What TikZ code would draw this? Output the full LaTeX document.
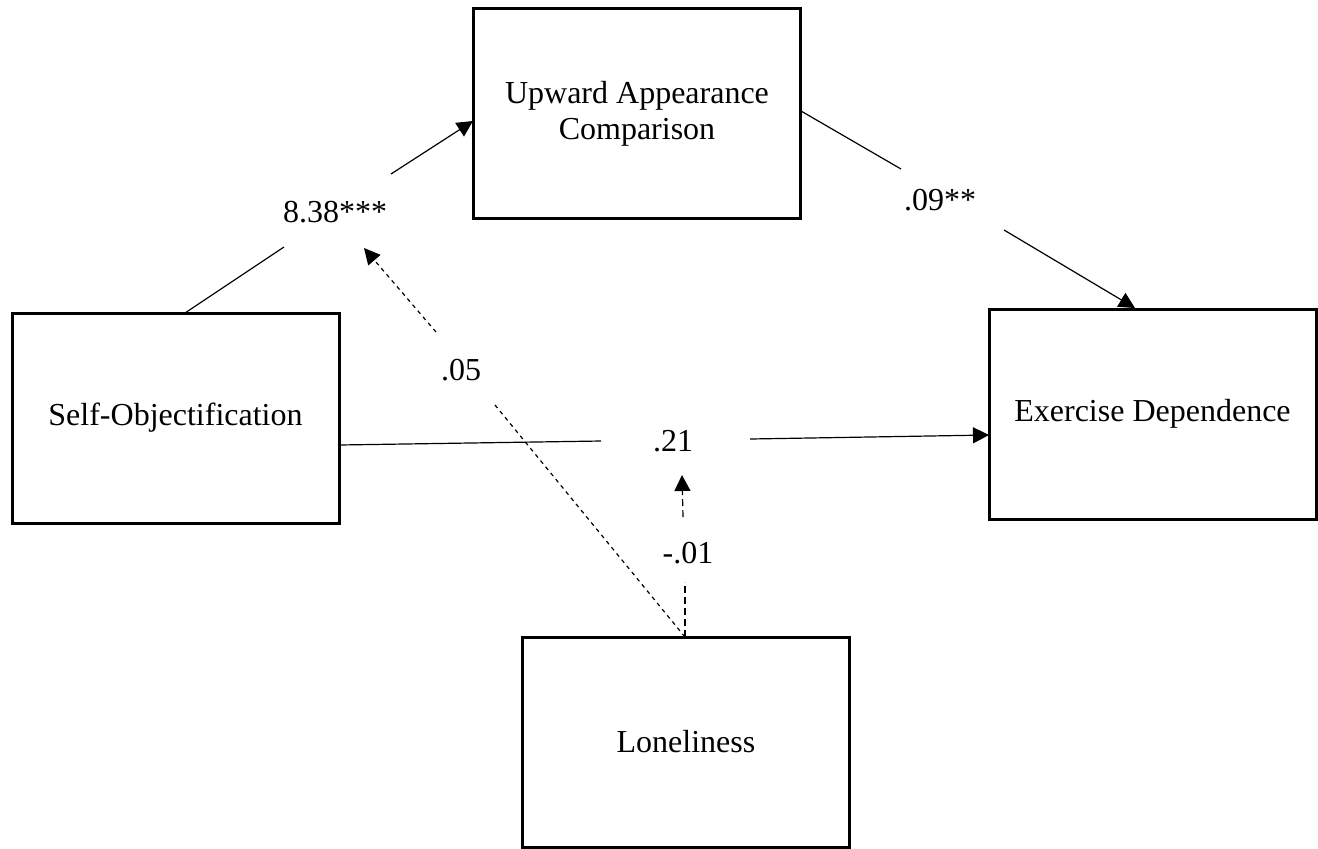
\documentclass[tikz,border=0pt]{standalone}
\usepackage{fontspec}
\setmainfont{Liberation Serif}
\usetikzlibrary{arrows.meta}
\begin{document}
\begin{tikzpicture}[x=0.5pt,y=-0.5pt,
  box/.style={draw, line width=1.5pt, minimum width=163.5pt, minimum height=105pt, align=center, inner sep=2pt, font=\fontsize{16}{18}\selectfont},
  lbl/.style={inner sep=0pt, font=\fontsize{16}{18}\selectfont},
  conn/.style={line width=0.6pt},
  arr/.style={line width=0.6pt, -{Triangle[length=8pt,width=8pt]}},
  dsh/.style={line width=0.6pt, dash pattern=on 2pt off 2pt},
  vdsh/.style={line width=0.6pt, dash pattern=on 3.5pt off 2pt},
  darr/.style={line width=0.6pt, dash pattern=on 2pt off 2pt, -{Triangle[length=8pt,width=8pt]}},
  vdarr/.style={line width=0.6pt, dash pattern=on 3.5pt off 2pt, -{Triangle[length=8pt,width=8pt]}}]
\useasboundingbox (0,0) rectangle (1318,848);
\fill[white] (0,0) rectangle (1318,848);

% boxes
\node[box] (up) at (637,113.5) {Upward Appearance\\Comparison};
\node[box] (so) at (175.5,418) {Self-Objectification};
\node[box] (ed) at (1152.5,414) {Exercise Dependence};
\node[box] (lo) at (686,742) {Loneliness};

% labels
\node[lbl] (l1) at (335,212) {8.38***};
\node[lbl] (l2) at (940,200) {.09**};
\node[lbl] (l3) at (673,441) {.21};
\node[lbl] (l4) at (461,370) {.05};
\node[lbl] (l5) at (688,553) {-.01};

% named connector points
\coordinate (soT) at (185,313);
\coordinate (a1) at (284,247);
\coordinate (a2) at (391,174);
\coordinate (upL) at (473,121);
\coordinate (upR) at (801,111);
\coordinate (b1) at (901,169);
\coordinate (b2) at (1004,230);
\coordinate (edT) at (1135,308);
\coordinate (soR) at (339,445);
\coordinate (c1) at (601,441);
\coordinate (c2) at (750,439);
\coordinate (edL) at (989,435);
\coordinate (loT) at (685,637);
\coordinate (d1) at (495,405);
\coordinate (d2) at (436,332);
\coordinate (d3) at (364,248);
\coordinate (e1) at (685,582);
\coordinate (e2) at (683,517);
\coordinate (e3) at (682,475);

% connectors
\draw[conn] (soT) -- (a1);
\draw[arr] (a2) -- (upL);
\draw[conn] (upR) -- (b1);
\draw[arr] (b2) -- (edT);
\draw[conn] (soR) -- (c1);
\draw[arr] (c2) -- (edL);
\draw[dsh] (loT) -- (d1);
\draw[darr] (d2) -- (d3);
\draw[vdsh] (loT) -- (e1);
\draw[vdarr] (e2) -- (e3);
\end{tikzpicture}
\end{document}
